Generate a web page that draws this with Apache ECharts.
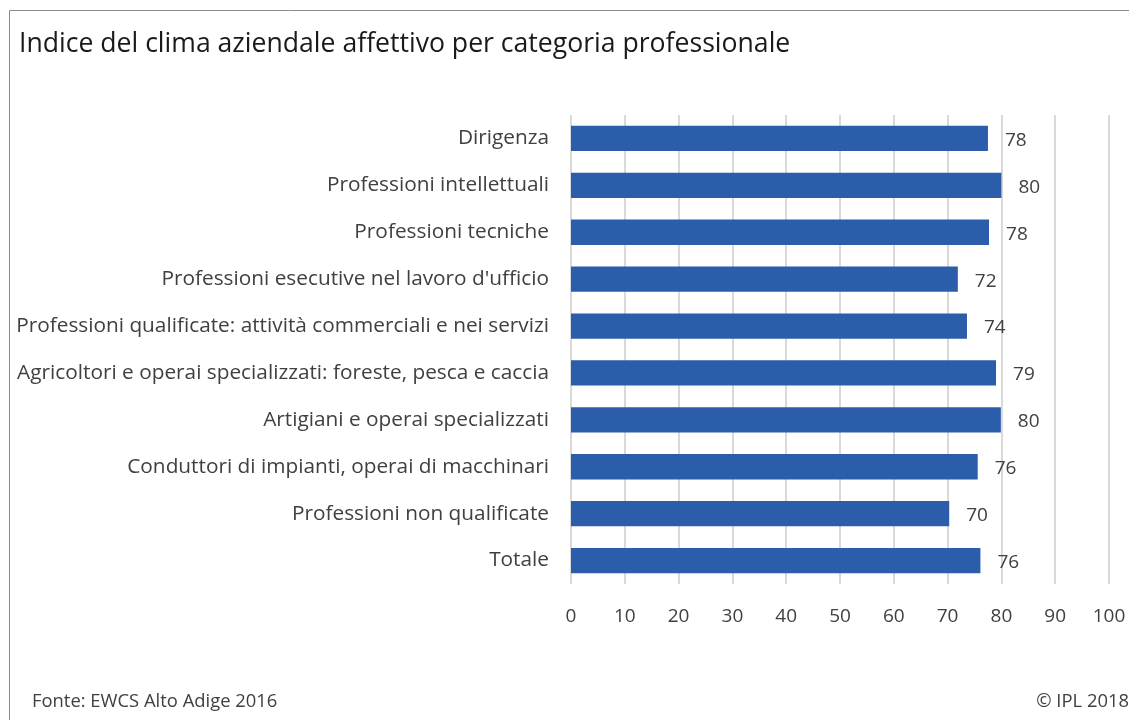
<!DOCTYPE html>
<html><head><meta charset="utf-8">
<script src="https://cdn.jsdelivr.net/npm/echarts@6/dist/echarts.min.js"></script>
<style>html,body{margin:0;padding:0;background:#fff}#c{width:1129px;height:720px}</style>
</head><body><div id="c"></div>
<script>
const categories = [
  "Dirigenza",
  "Professioni intellettuali",
  "Professioni tecniche",
  "Professioni esecutive nel lavoro d'ufficio",
  "Professioni qualificate: attività commerciali e nei servizi",
  "Agricoltori e operai specializzati: foreste, pesca e caccia",
  "Artigiani e operai specializzati",
  "Conduttori di impianti, operai di macchinari",
  "Professioni non qualificate",
  "Totale"
];
const values = [77.5, 80.0, 77.7, 71.9, 73.6, 79.0, 79.9, 75.6, 70.3, 76.1];
const xTicks = [0, 10, 20, 30, 40, 50, 60, 70, 80, 90, 100];
const titleText = "Indice del clima aziendale affettivo per categoria professionale";
const sourceText = "Fonte: EWCS Alto Adige 2016";
const creditText = "© IPL 2018";

const FONT = "Open Sans";
const chart = echarts.init(document.getElementById('c'), null, {renderer: 'canvas'});
chart.setOption({
  animation: false,
  textStyle: {fontFamily: FONT},
  title: {
    text: titleText, left: 14, top: 26,
    textStyle: {fontFamily: FONT, fontSize: 26.6, fontWeight: 'normal', color: '#1a1a1a'}
  },
  graphic: [
    {type: 'rect', shape: {x: 9.5, y: 10.5, width: 1300, height: 900}, style: {fill: 'none', stroke: '#8a8a8a', lineWidth: 1}},
    {type: 'text', left: 32, top: 693, style: {text: sourceText, font: '18.4px "' + FONT + '"', fill: '#404040'}},
    {type: 'text', right: 0, top: 693, style: {text: creditText, font: '18.4px "' + FONT + '"', fill: '#404040'}}
  ],
  grid: {left: 571, right: 20, top: 115, bottom: 136, containLabel: false},
  xAxis: {
    type: 'value', min: xTicks[0], max: xTicks[xTicks.length - 1], interval: 10,
    axisLine: {show: false}, axisTick: {show: false},
    splitLine: {show: true, lineStyle: {color: '#d9d9d9', width: 2}},
    axisLabel: {fontFamily: FONT, fontSize: 19, color: '#404040', margin: 23}
  },
  yAxis: {
    type: 'category', data: categories, inverse: true,
    axisLine: {show: false}, axisTick: {show: false},
    axisLabel: {fontFamily: FONT, fontSize: 20.8, color: '#404040', margin: 22, padding: [6, 0, 0, 0]}
  },
  series: [{
    type: 'bar', data: values, barCategoryGap: '46%',
    itemStyle: {color: '#2c5daa'},
    label: {show: true, position: 'right', distance: 17, fontFamily: FONT, fontSize: 19, color: '#404040',
      offset: [0, 2], formatter: p => Math.round(p.value)}
  }]
});
</script></body></html>
